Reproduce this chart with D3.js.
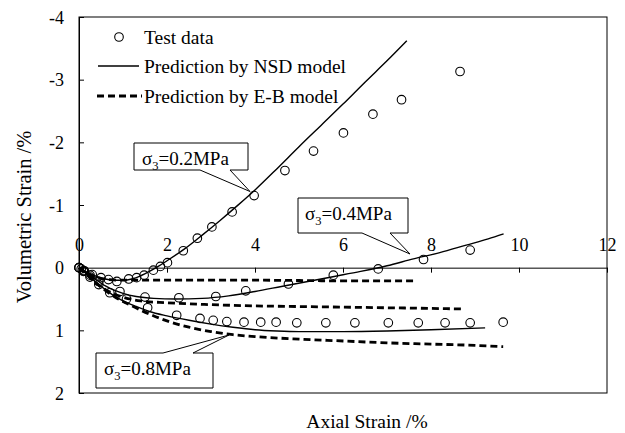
<!DOCTYPE html>
<html><head><meta charset="utf-8">
<script src="https://cdn.jsdelivr.net/npm/d3@7"></script>
<style>
body{margin:0;background:#fff}
svg{display:block}
svg text{font-family:'Liberation Serif','Times New Roman',Tinos,Times,'Nimbus Roman','DejaVu Serif',serif !important;fill:#000}
</style>
</head><body>
<svg id="c" width="625" height="433"></svg>
<script>
// ---- data ----
const xTicks = [0, 2, 4, 6, 8, 10, 12];
const yTicks = [-4, -3, -2, -1, 0, 1, 2];

// Test data (axial strain %, volumetric strain %)
const test02 = [[0,0],[0.05,0.02],[0.12,0.05],[0.3,0.11],[0.5,0.16],[0.67,0.19],[0.86,0.22],[1.13,0.18],[1.31,0.16],[1.48,0.12],[1.69,0.04],[1.85,-0.02],[2.01,-0.08],[2.37,-0.27],[2.69,-0.47],[3.02,-0.65],[3.48,-0.89],[3.98,-1.15],[4.68,-1.55],[5.33,-1.86],[6.01,-2.15],[6.68,-2.45],[7.33,-2.68],[8.66,-3.13]];
const test04 = [[0,0],[0.1,0.05],[0.25,0.12],[0.45,0.22],[0.93,0.38],[1.5,0.47],[2.27,0.48],[3.11,0.46],[3.79,0.37],[4.76,0.26],[5.78,0.12],[6.8,0.02],[7.83,-0.13],[8.89,-0.28]];
const test08 = [[0,0],[0.1,0.06],[0.25,0.15],[0.45,0.27],[0.7,0.4],[1.08,0.5],[1.56,0.64],[2.22,0.76],[2.75,0.81],[3.05,0.84],[3.36,0.86],[3.75,0.87],[4.13,0.87],[4.48,0.87],[4.95,0.88],[5.61,0.88],[6.27,0.88],[7.03,0.88],[7.71,0.88],[8.32,0.88],[8.89,0.88],[9.64,0.87]];

// NSD model predictions
const nsd02 = [[0,0],[0.2,0.08],[0.4,0.14],[0.6,0.18],[0.8,0.2],[1.0,0.2],[1.2,0.18],[1.4,0.13],[1.6,0.06],[1.8,-0.02],[2.0,-0.11],[2.4,-0.3],[2.8,-0.52],[3.2,-0.75],[3.6,-0.99],[4.0,-1.24],[4.5,-1.58],[5.0,-1.93],[5.5,-2.27],[6.0,-2.61],[6.5,-2.96],[7.0,-3.3],[7.45,-3.62]];
const nsd04 = [[0,0],[0.2,0.1],[0.4,0.2],[0.6,0.29],[0.8,0.36],[1.0,0.41],[1.3,0.46],[1.7,0.49],[2.2,0.5],[2.8,0.49],[3.4,0.45],[4.0,0.38],[4.6,0.3],[5.2,0.22],[5.8,0.14],[6.4,0.06],[7.0,-0.03],[7.6,-0.14],[8.2,-0.24],[8.8,-0.36],[9.3,-0.46],[9.65,-0.54]];
const nsd08 = [[0,0],[0.2,0.12],[0.4,0.24],[0.6,0.35],[0.8,0.45],[1.0,0.53],[1.3,0.62],[1.6,0.7],[2.0,0.77],[2.5,0.84],[3.0,0.9],[3.5,0.95],[4.0,0.99],[4.5,1.01],[5.0,1.02],[6.0,1.02],[7.0,1.01],[8.0,0.99],[9.23,0.96]];

// E-B model predictions
const eb02 = [[0,0],[0.2,0.1],[0.4,0.16],[0.7,0.19],[1.0,0.2],[2,0.2],[4,0.2],[6,0.21],[7.65,0.21]];
const eb04 = [[0,0],[0.2,0.12],[0.4,0.25],[0.6,0.35],[0.8,0.42],[1.0,0.47],[1.4,0.53],[2,0.56],[3,0.59],[4,0.61],[5,0.62],[6,0.63],[7,0.64],[8,0.65],[8.75,0.66]];
const eb08 = [[0,0],[0.2,0.13],[0.5,0.31],[0.8,0.46],[1.2,0.61],[1.6,0.74],[2.0,0.85],[2.5,0.95],[3.0,1.02],[3.5,1.07],[4.0,1.1],[5.0,1.14],[6.0,1.17],[7.0,1.2],[8.0,1.22],[9.0,1.24],[9.64,1.26]];

const legendLabels = ["Test data", "Prediction by NSD model", "Prediction by E-B model"];
const xTitle = "Axial Strain /%";
const yTitle = "Volumetric Strain /%";
const notes = [
  {sub:"3", val:"=0.2MPa"},
  {sub:"3", val:"=0.4MPa"},
  {sub:"3", val:"=0.8MPa"}
];

// ---- chart ----
const FONT = "'Liberation Serif','Times New Roman',Tinos,Times,'Nimbus Roman','DejaVu Serif',serif";
const svg = d3.select("#c").attr("font-family", FONT);
const L = 79, R = 607, T = 17, B = 393;
const x = d3.scaleLinear().domain([0, 12]).range([L, R]);
const y = d3.scaleLinear().domain([-4, 2]).range([T, B]);

svg.append("rect").attr("x", L).attr("y", T).attr("width", R - L).attr("height", B - T)
  .attr("fill", "none").attr("stroke", "#000").attr("stroke-width", 1);

const fmt = d => String(d);
const xa = svg.append("g").attr("transform", `translate(0,${y(0)})`)
  .call(d3.axisTop(x).tickValues(xTicks).tickFormat(fmt)
    .tickSizeInner(-5).tickSizeOuter(0).tickPadding(17));
const ya = svg.append("g").attr("transform", `translate(${L},0)`)
  .call(d3.axisLeft(y).tickValues(yTicks).tickFormat(fmt)
    .tickSizeInner(-5).tickSizeOuter(0).tickPadding(15));
[xa, ya].forEach(g => {
  g.attr("font-family", FONT).attr("font-size", 18);
  g.selectAll("path,line").attr("stroke", "#000").attr("stroke-width", 1);
  g.selectAll("text").attr("font-family", FONT).attr("font-size", 18).attr("fill", "#000");
});
ya.selectAll("text").attr("dy", "0.35em");

const line = d3.line().x(d => x(d[0])).y(d => y(d[1])).curve(d3.curveMonotoneX);

[nsd02, nsd04, nsd08].forEach(s => svg.append("path").datum(s).attr("d", line)
  .attr("fill", "none").attr("stroke", "#000").attr("stroke-width", 1.4));
[eb02, eb04, eb08].forEach(s => svg.append("path").datum(s).attr("d", line)
  .attr("fill", "none").attr("stroke", "#000").attr("stroke-width", 2.8).attr("stroke-dasharray", "7,4"));

[test02, test04, test08].forEach(s => svg.append("g").selectAll("circle").data(s).join("circle")
  .attr("cx", d => x(d[0])).attr("cy", d => y(d[1])).attr("r", 4.3)
  .attr("fill", "none").attr("stroke", "#000").attr("stroke-width", 1.1));

// legend
const lg = svg.append("g");
lg.append("circle").attr("cx", 119).attr("cy", 37).attr("r", 4.3).attr("fill", "none").attr("stroke", "#000").attr("stroke-width", 1.1);
lg.append("line").attr("x1", 98).attr("x2", 139).attr("y1", 66).attr("y2", 66).attr("stroke", "#000").attr("stroke-width", 1.4);
lg.append("line").attr("x1", 97).attr("x2", 142).attr("y1", 96).attr("y2", 96).attr("stroke", "#000").attr("stroke-width", 2.8).attr("stroke-dasharray", "7,4");
legendLabels.forEach((t, i) => lg.append("text").attr("x", 144).attr("y", 37 + i * 29.5).attr("dy", "0.35em")
  .attr("font-family", FONT).attr("font-size", 19.5).text(t));

// titles
svg.append("text").attr("x", 367).attr("y", 428).attr("text-anchor", "middle")
  .attr("font-family", FONT).attr("font-size", 19.5).text(xTitle);
svg.append("text").attr("transform", "translate(31,217) rotate(-90)").attr("text-anchor", "middle")
  .attr("font-family", FONT).attr("font-size", 20.5).text(yTitle);

// callouts
function callout(b, w1, w2, tip, top, note, tx, ty) {
  let p;
  if (!top) p = `M${b[0]},${b[1]}H${b[2]}V${b[3]}H${w2}L${tip[0]},${tip[1]}L${w1},${b[3]}H${b[0]}Z`;
  else p = `M${b[0]},${b[1]}H${w1}L${tip[0]},${tip[1]}L${w2},${b[1]}H${b[2]}V${b[3]}H${b[0]}Z`;
  svg.append("path").attr("d", p).attr("fill", "#fff").attr("stroke", "#000").attr("stroke-width", 1);
  const t = svg.append("text").attr("x", tx).attr("y", ty).attr("font-family", FONT).attr("font-size", 19);
  t.append("tspan").text("σ");
  t.append("tspan").attr("font-size", 12.5).attr("dy", 5).text(note.sub);
  t.append("tspan").attr("dy", -5).text(note.val);
}
callout([134,143,248,170], 200, 230, [250,191.5], false, notes[0], 142, 165);
callout([298,198,408,233], 362, 390, [410,254], false, notes[1], 305, 220);
callout([96,353,213,388], 163, 193, [229,335], true, notes[2], 104, 375);
</script>
</body></html>
